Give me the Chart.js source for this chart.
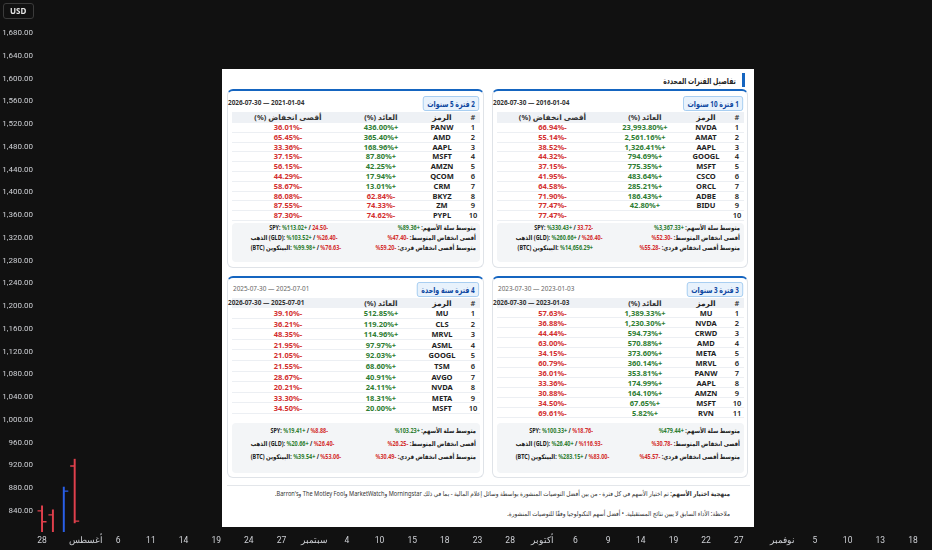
<!DOCTYPE html>
<html lang="ar">
  <head>
    <meta charset="UTF-8" />
    <meta name="viewport" content="width=device-width, initial-scale=1.0" />
    <title>تفاصيل الفترات المحددة</title>
    <style>
      html, body { margin: 0; padding: 0; background: #111111; }
      body {
        width: 932px; height: 550px; position: relative; overflow: hidden;
        font-family: "Noto Sans", "DejaVu Sans", sans-serif;
      }
      #chartBox { position: absolute; left: 0; top: 0; width: 932px; height: 550px; }
      .usd {
        position: absolute; left: 3px; top: 3px; width: 31px; height: 16px;
        box-sizing: border-box; border: 1px solid #3b3b3b; border-radius: 3px;
        color: #e6e6e6; font: 700 8px "Noto Sans", sans-serif; line-height: 14px; padding-left: 6px;
      }
      .panel {
        position: absolute; left: 222px; top: 69px; width: 532px; height: 458px;
        background: #ffffff; color: #222;
      }
      .title {
        position: absolute; right: 9px; top: 4px; height: 14px; display: flex; align-items: center;
        font-weight: 700; font-size: 8.5px; color: #222;
      }
      .title .bar { width: 3px; height: 14px; background: #1565c0; margin-left: 6px; }
      .title .txt { display: inline-block; transform: scaleX(0.72); transform-origin: right center; }
      .card {
        position: absolute; box-sizing: border-box; background: #fff;
        border: 1px solid #dfe3e8; border-top: 2px solid #1565c0; border-radius: 6px;
      }
      .badge {
        position: absolute; right: 4px; height: 13px; line-height: 13px; padding: 0 5px;
        background: #e8f2fc; border: 1px solid #9cc8ef; border-radius: 3px;
        color: #0d47a1; font-weight: 700; font-size: 8.5px; white-space: nowrap;
        transform: scaleX(0.74); transform-origin: right center;
      }
      .date { position: absolute; left: 0; font-size: 6.4px; line-height: 9px; white-space: nowrap; }
      .date.main { font-weight: 700; color: #333; }
      .date.soft { color: #666; left: 5px; }
      .tbl { position: absolute; left: 4px; right: 3px; }
      .row { display: flex; direction: rtl; border-bottom: 1px solid #eceff3; box-sizing: border-box; }
      .row.head { background: #eef1f5; border-bottom: none; font-weight: 700; color: #333; }
      .row > div { text-align: center; font-size: 7.5px; white-space: nowrap; }
      .c-n { width: 14px; font-weight: 600; }
      .c-s { width: 48px; font-weight: 700; color: #222; }
      .c-r { width: 74px; font-weight: 700; }
      .c-d { flex: 1; font-weight: 700; }
      .up { color: #2e7d32; }
      .dn { color: #d32f2f; }
      .sum {
        position: absolute; left: 4px; right: 3px; background: #f3f5f7; border-radius: 4px;
        display: flex; direction: rtl; box-sizing: border-box; font-size: 6.5px; font-weight: 700;
      }
      .sum .rc { flex: 1; padding-right: 4px; }
      .sum .lc { width: 92px; margin-left: 4px; }
      .sum .rc > div { direction: rtl; text-align: right; white-space: nowrap; transform: scaleX(0.84); transform-origin: right center; }
      .sum .lc > div { direction: ltr; text-align: right; white-space: nowrap; transform: scaleX(0.84); transform-origin: right center; }
      .sep { position: absolute; left: 5px; right: 4px; top: 416px; height: 1px; background: #e3e6ea; }
      .note {
        position: absolute; right: 24px; font-size: 6.5px; line-height: 10px; color: #333; white-space: nowrap;
        transform: scaleX(0.87); transform-origin: right center;
      }
    </style>
    <script src="https://cdn.jsdelivr.net/npm/chart.js"></script>
  </head>
  <body>
    <div id="chartBox"><canvas id="priceChart"></canvas></div>
    <div class="usd">USD</div>
    <div class="panel" id="panel" dir="rtl">
      <div class="title"><span class="bar"></span><span class="txt">تفاصيل الفترات المحددة</span></div>
      <div class="sep"></div>
      <div class="note" style="top: 420px">
        <b>منهجية اختيار الأسهم:</b> تم اختيار الأسهم في كل فترة - من بين أفضل التوصيات المنشورة بواسطة وسائل إعلام المالية - بما في ذلك Morningstar وMarketWatch وThe Motley Fool وBarron's.
      </div>
      <div class="note" style="top: 440px">
        ملاحظة: الأداء السابق لا يبين نتائج المستقبلية. • أفضل أسهم التكنولوجيا وفقًا للتوصيات المنشورة.
      </div>
    </div>

    <script>
      // trading days shown on the time axis (2026)
      const julDays = [28, 29, 30, 31];
      const augDays = [3, 4, 5, 6, 7, 10, 11, 12, 13, 14, 17, 18, 19, 20, 21, 24, 25, 26, 27, 28, 31];
      const sepDays = [1, 2, 3, 4, 8, 9, 10, 11, 14, 15, 16, 17, 18, 21, 22, 23, 24, 25, 28, 29, 30];
      const octDays = [1, 2, 5, 6, 7, 8, 9, 12, 13, 14, 15, 16, 19, 20, 21, 22, 23, 26, 27, 28, 29, 30];
      const novDays = [2, 3, 4, 5, 6, 9, 10, 11, 12, 13, 16, 17, 18];

      const xTickDates = ["07-28", "08-03", "08-06", "08-11", "08-14", "08-19", "08-24", "08-27",
        "09-01", "09-04", "09-10", "09-15", "09-18", "09-23", "09-28", "10-01", "10-06", "10-09",
        "10-14", "10-19", "10-22", "10-27", "11-02", "11-05", "11-10", "11-13", "11-18"];
      const xTickLabels = ["28", "أغسطس", "6", "11", "14", "19", "24", "27", "سبتمبر", "4", "10",
        "15", "18", "23", "28", "أكتوبر", "6", "9", "14", "19", "22", "27", "نوفمبر", "5", "10", "13", "18"];
      const priceTicks = [1680, 1640, 1600, 1560, 1520, 1480, 1440, 1400, 1360, 1320, 1280, 1240,
        1200, 1160, 1120, 1080, 1040, 1000, 960, 920, 880, 840];

      // OHLC bars
      const barDates = ["07-28", "07-29", "07-30", "07-31"];
      const opens = [840, 833, 800, 919];
      const highs = [849, 842, 882, 931];
      const lows = [795, 795, 795, 819];
      const closes = [821, 796, 875, 822];

      // periods
      const periodTitles = ["1 فترة 10 سنوات", "2 فترة 5 سنوات", "3 فترة 3 سنوات", "4 فترة سنة واحدة"];
      const periodStarts = ["2016-01-04", "2021-01-04", "2023-01-03", "2025-07-01"];
      const periodEnd = "2026-07-30";
      const periodShortEnds = [null, null, "2023-07-30", "2025-07-30"];

      const p1Symbols = ["NVDA", "AMAT", "AAPL", "GOOGL", "MSFT", "CSCO", "ORCL", "ADBE", "BIDU", ""];
      const p1Returns = [23993.80, 2561.16, 1326.41, 794.69, 775.35, 483.64, 285.21, 186.43, 42.80, null];
      const p1Drawdowns = [-66.94, -55.14, -38.52, -44.32, -37.15, -41.95, -64.58, -71.90, -77.47, -77.47];

      const p2Symbols = ["PANW", "AMD", "AAPL", "MSFT", "AMZN", "QCOM", "CRM", "BKYZ", "ZM", "PYPL"];
      const p2Returns = [436.00, 365.40, 168.96, 87.80, 42.25, 17.94, 13.01, -62.84, -74.33, -74.62];
      const p2Drawdowns = [-36.01, -65.45, -33.36, -37.15, -56.15, -44.29, -58.67, -86.08, -87.55, -87.30];

      const p3Symbols = ["MU", "NVDA", "CRWD", "AMD", "META", "MRVL", "PANW", "AAPL", "AMZN", "MSFT", "RVN"];
      const p3Returns = [1389.33, 1230.30, 594.73, 570.88, 373.60, 360.14, 353.81, 174.99, 164.10, 67.65, 5.82];
      const p3Drawdowns = [-57.63, -36.88, -44.44, -63.00, -34.15, -60.79, -36.01, -33.36, -30.88, -34.50, -69.61];

      const p4Symbols = ["MU", "CLS", "MRVL", "ASML", "GOOGL", "TSM", "AVGO", "NVDA", "META", "MSFT"];
      const p4Returns = [512.85, 119.20, 114.96, 97.97, 92.03, 68.60, 40.91, 24.11, 18.31, 20.00];
      const p4Drawdowns = [-39.10, -36.21, -48.35, -21.95, -21.05, -21.55, -28.67, -20.21, -33.30, -34.50];

      // basket avg return, avg drawdown, avg individual max drawdown
      const p1Stats = [3367.33, -52.30, -55.28];
      const p2Stats = [89.36, -47.40, -59.20];
      const p3Stats = [479.44, -30.78, -45.57];
      const p4Stats = [103.23, -26.25, -30.49];

      // SPY, GLD, BTC: return / drawdown
      const p1Bench = [[330.43, -33.72], [260.66, -26.40], [14656.29, null]];
      const p2Bench = [[113.02, -24.50], [103.52, -26.40], [99.98, -76.63]];
      const p3Bench = [[100.33, -18.76], [26.40, -116.93], [283.15, -83.00]];
      const p4Bench = [[19.41, -8.88], [20.66, -26.40], [39.54, -53.06]];
      const spyDdHasPct = [false, false, true, true];

      // ---------- chart ----------
      const tradingDays = [
        ...julDays.map((d) => "07-" + String(d).padStart(2, "0")),
        ...augDays.map((d) => "08-" + String(d).padStart(2, "0")),
        ...sepDays.map((d) => "09-" + String(d).padStart(2, "0")),
        ...octDays.map((d) => "10-" + String(d).padStart(2, "0")),
        ...novDays.map((d) => "11-" + String(d).padStart(2, "0")),
      ];
      const upColor = "#2a5fe8";
      const downColor = "#e0404c";
      const barColor = (i) => (closes[i] >= opens[i] ? upColor : downColor);

      const ohlcTicks = {
        id: "ohlcTicks",
        afterDatasetsDraw(chart) {
          const { ctx, chartArea, scales } = chart;
          ctx.save();
          ctx.beginPath();
          ctx.rect(chartArea.left - 10, chartArea.top, chartArea.width + 10, chartArea.height);
          ctx.clip();
          ctx.lineWidth = 1.3;
          barDates.forEach((d, i) => {
            const px = scales.x.getPixelForValue(tradingDays.indexOf(d));
            const yo = scales.y.getPixelForValue(opens[i]);
            const yc = scales.y.getPixelForValue(closes[i]);
            ctx.strokeStyle = barColor(i);
            ctx.beginPath();
            ctx.moveTo(px - 4.5, yo);
            ctx.lineTo(px, yo);
            ctx.moveTo(px, yc);
            ctx.lineTo(px + 4.5, yc);
            ctx.stroke();
          });
          ctx.restore();
        },
      };

      new Chart(document.getElementById("priceChart"), {
        type: "bar",
        data: {
          datasets: [
            {
              data: barDates.map((d, i) => ({ x: tradingDays.indexOf(d), y: [lows[i], highs[i]] })),
              backgroundColor: barDates.map((d, i) => barColor(i)),
              barThickness: 1.3,
              borderWidth: 0,
            },
          ],
        },
        options: {
          responsive: true,
          maintainAspectRatio: false,
          animation: false,
          layout: { padding: 0 },
          plugins: { legend: { display: false }, tooltip: { enabled: false } },
          scales: {
            x: {
              type: "linear",
              offset: false,
              min: -0.37,
              max: 81.75,
              grid: { display: false, drawTicks: false },
              border: { display: false },
              afterFit: (s) => { s.height = 18; },
              afterBuildTicks: (s) => {
                s.ticks = xTickDates.map((d) => ({ value: tradingDays.indexOf(d) }));
              },
              ticks: {
                color: "#cfd1d6",
                font: { family: "Roboto", size: 8.5 },
                padding: 4,
                autoSkip: false,
                maxRotation: 0,
                callback: (v, i) => xTickLabels[i],
              },
            },
            y: {
              min: 803,
              max: 1738,
              grid: { display: false, drawTicks: false },
              border: { display: false },
              afterFit: (s) => {
                s.width = 38;
                s.paddingTop = 0;
                s.paddingBottom = 0;
              },
              afterBuildTicks: (s) => {
                s.ticks = priceTicks.map((v) => ({ value: v }));
              },
              ticks: {
                color: "#cfd1d6",
                font: { family: "Roboto", size: 8 },
                padding: 5,
                callback: (v) => v.toLocaleString("en-US", { minimumFractionDigits: 2, maximumFractionDigits: 2 }),
              },
            },
          },
        },
        plugins: [ohlcTicks],
      });

      // ---------- panel ----------
      const fmt = (v) => Math.abs(v).toLocaleString("en-US", { minimumFractionDigits: 2, maximumFractionDigits: 2 });
      const cls = (v) => (v < 0 ? "dn" : "up");
      const sign = (v) => (v < 0 ? "-" : "+");
      const cellVal = (v) => (v === null ? "" : `<span dir="ltr" class="${cls(v)}">${fmt(v)}%${sign(v)}</span>`);
      const sumVal = (v, pct = true) => `<span dir="ltr" class="${cls(v)}">${pct ? "%" : ""}${fmt(v)}${sign(v)}</span>`;

      const periods = [
        { syms: p1Symbols, rets: p1Returns, dds: p1Drawdowns, stats: p1Stats, bench: p1Bench },
        { syms: p2Symbols, rets: p2Returns, dds: p2Drawdowns, stats: p2Stats, bench: p2Bench },
        { syms: p3Symbols, rets: p3Returns, dds: p3Drawdowns, stats: p3Stats, bench: p3Bench },
        { syms: p4Symbols, rets: p4Returns, dds: p4Drawdowns, stats: p4Stats, bench: p4Bench },
      ];
      // card boxes inside the panel (right column first)
      const cardBoxes = [
        { left: 270, top: 20, w: 256, h: 179 },
        { left: 5, top: 20, w: 257, h: 179 },
        { left: 270, top: 207, w: 256, h: 202 },
        { left: 5, top: 207, w: 257, h: 202 },
      ];
      const rowHeights = [9.8, 9.8, 10.0, 10.6];

      const panel = document.getElementById("panel");
      periods.forEach((p, k) => {
        const b = cardBoxes[k];
        const top = k < 2;
        const card = document.createElement("div");
        card.className = "card";
        Object.assign(card.style, { left: b.left + "px", top: b.top + "px", width: b.w + "px", height: b.h + "px" });

        let html = `<div class="badge" style="top:${top ? 5 : 4}px">${periodTitles[k]}</div>`;
        const range = (end) => `<span dir="ltr">${end} — ${periodStarts[k]}</span>`;
        if (top) {
          html += `<div class="date main" style="top:7px">${range(periodEnd)}</div>`;
        } else {
          html += `<div class="date soft" style="top:6px">${range(periodShortEnds[k])}</div>`;
        }

        const rh = rowHeights[k];
        html += `<div class="tbl" style="top:${top ? 21 : 20}px">`;
        html += `<div class="row head" style="height:${top ? 11 : 10}px;line-height:${top ? 11 : 10}px">
          <div class="c-n">#</div><div class="c-s">الرمز</div><div class="c-r">العائد (%)</div>
          <div class="c-d">${top ? "أقصى انخفاض (%)" : ""}</div></div>`;
        p.syms.forEach((s, i) => {
          html += `<div class="row" style="height:${rh}px;line-height:${rh}px">
            <div class="c-n">${i + 1}</div><div class="c-s">${s}</div>
            <div class="c-r">${cellVal(p.rets[i])}</div><div class="c-d">${cellVal(p.dds[i])}</div></div>`;
        });
        html += `</div>`;
        if (!top) {
          html += `<div class="date main" style="top:20px">${range(periodEnd)}</div>`;
        }

        const lh = top ? 10 : 13;
        const [spy, gld, btc] = p.bench;
        const benchTail = (pair, pct) =>
          sumVal(pair[0]) + (pair[1] === null ? "" : ` / ${sumVal(pair[1], pct)}`);
        html += `<div class="sum" style="top:${top ? 132 : 145}px;height:${top ? 39 : 50}px;padding-top:${top ? 0 : 1}px;line-height:${lh}px">
          <div class="rc">
            <div><span>متوسط سلة الأسهم:</span> ${sumVal(p.stats[0])}</div>
            <div><span>أقصى انخفاض المتوسط:</span> ${sumVal(p.stats[1])}</div>
            <div><span>متوسط أقصى انخفاض فردي:</span> ${sumVal(p.stats[2])}</div>
          </div>
          <div class="lc">
            <div><span>SPY:</span> ${benchTail(spy, spyDdHasPct[k])}</div>
            <div><span>الذهب</span> <span>(GLD):</span> ${benchTail(gld, true)}</div>
            <div><span>(BTC)</span> <span>البيتكوين:</span> ${benchTail(btc, true)}</div>
          </div>
        </div>`;
        card.innerHTML = html;
        panel.appendChild(card);
      });
    </script>
  </body>
</html>
